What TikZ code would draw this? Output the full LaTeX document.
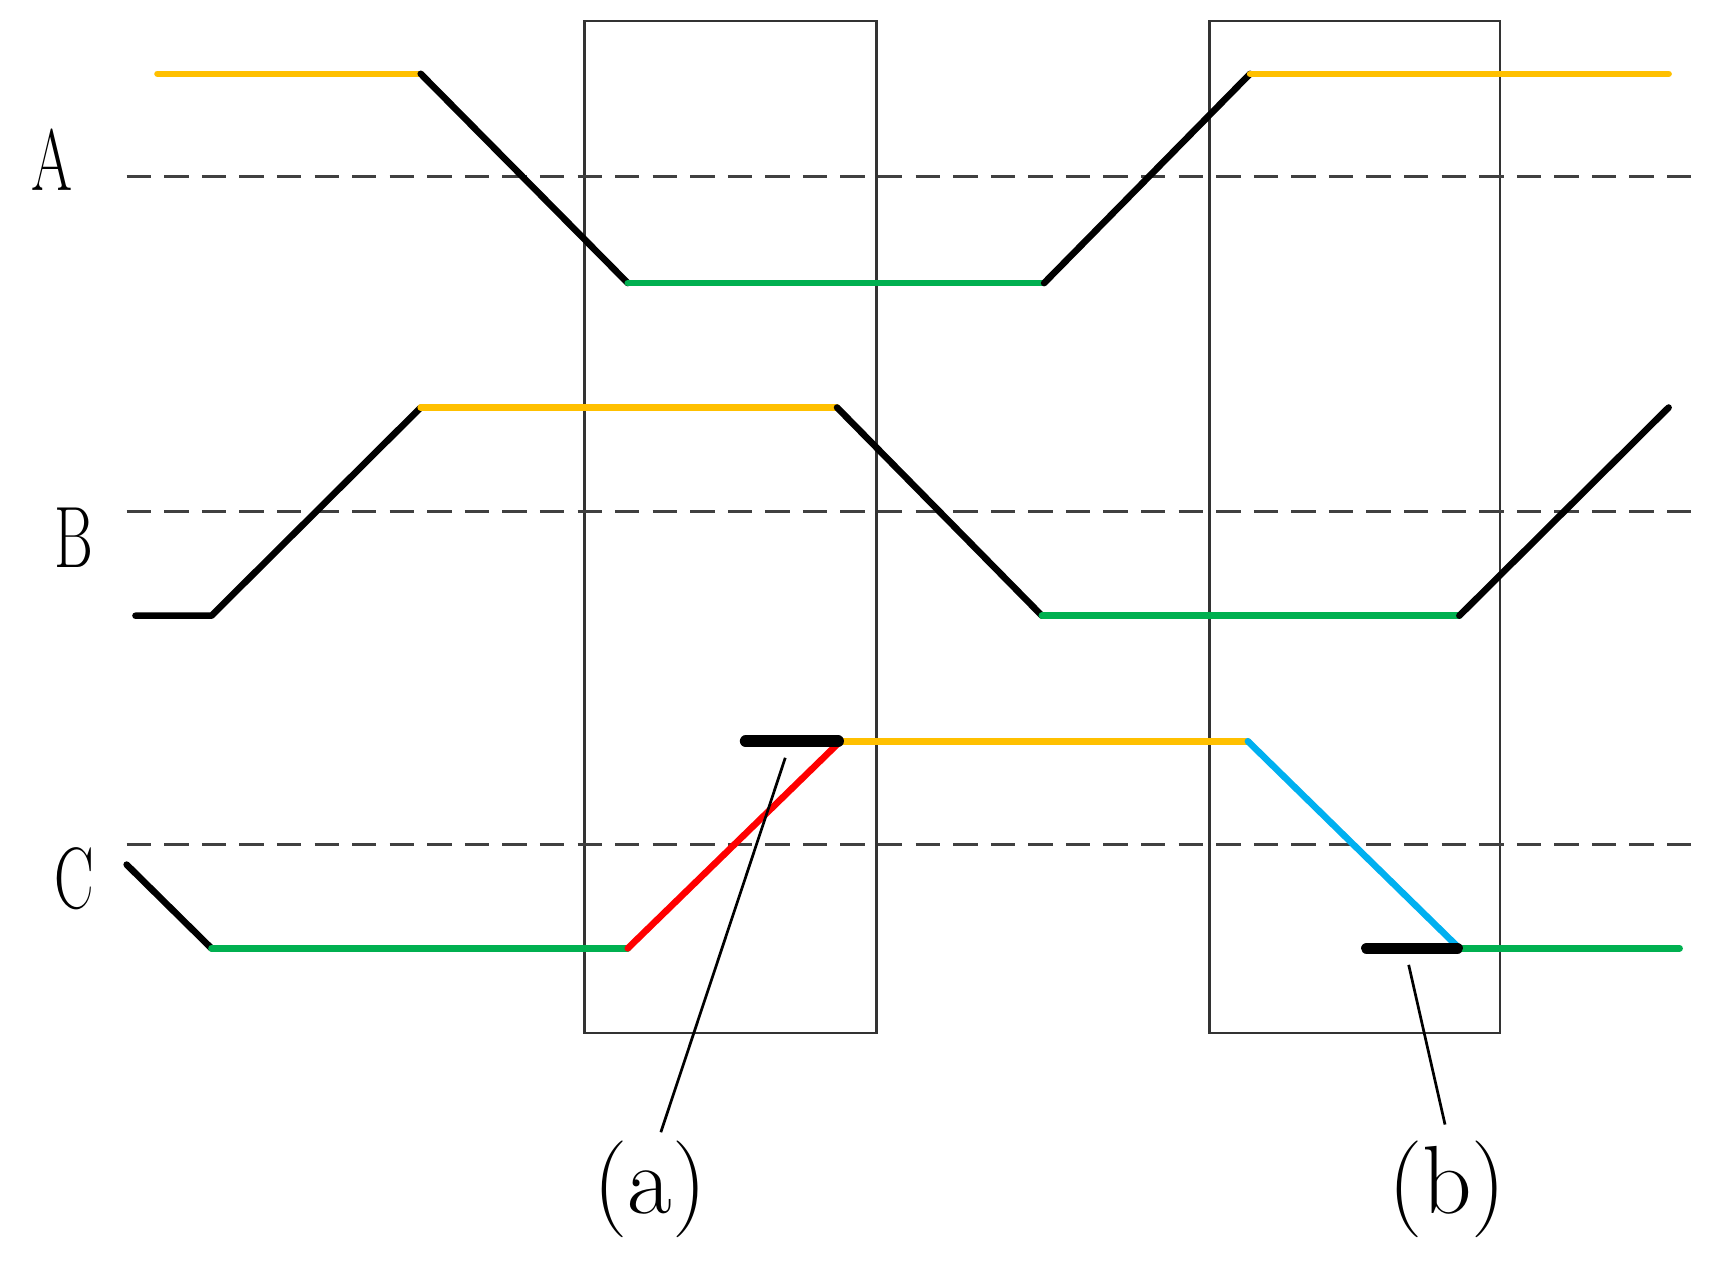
\documentclass[tikz,border=0pt]{standalone}
\begin{document}
\begin{tikzpicture}[x=0.01cm,y=-0.01cm,
  frame/.style={draw=black!80,line width=0.7pt},
  refline/.style={draw=black!75,line width=0.8pt,dash pattern=on 6.3pt off 3.4pt},
  sig/.style={line width=1.7pt,line cap=round,line join=round},
  bar/.style={line width=3pt,line cap=round,black},
  leader/.style={line width=0.7pt,black},
  lbl/.style={font=\fontsize{22.5}{26}\selectfont,xscale=0.68,inner sep=0pt},
  captxt/.style={font=\fontsize{25}{30}\selectfont,inner sep=0pt}]
\definecolor{sigorange}{HTML}{FFC000}
\definecolor{siggreen}{HTML}{00B050}
\definecolor{sigred}{HTML}{FF0000}
\definecolor{sigcyan}{HTML}{00B0F0}
\useasboundingbox (0,0) rectangle (1568,1144);
% frames
\draw[frame] (531,19) rectangle (796,938);
\draw[frame] (1098,19) rectangle (1362,938);
% reference lines
\draw[refline] (115,160) -- (1540,160);
\draw[refline] (115,464) -- (1540,464);
\draw[refline] (115,767) -- (1540,767);
% labels
\node[lbl] (A) at (47,145) {A};
\node[lbl] (B) at (67,488) {B};
\node[lbl] (C) at (67,798) {C};
% signal A
\draw[sig,sigorange] (143,67) -- (382,67);
\draw[sig,black] (382,67) -- (570,257);
\draw[sig,siggreen] (570,257) -- (948,257);
\draw[sig,black] (948,257) -- (1135,67);
\draw[sig,sigorange] (1135,67) -- (1515,67);
% signal B
\draw[sig,black] (123,559) -- (192,559) -- (382,370);
\draw[sig,sigorange] (382,370) -- (760,370);
\draw[sig,black] (760,370) -- (946,559);
\draw[sig,siggreen] (946,559) -- (1325,559);
\draw[sig,black] (1325,559) -- (1515,370);
% signal C
\draw[sig,black] (115,785) -- (192,861);
\draw[sig,siggreen] (192,861) -- (570,861);
\draw[sig,sigred] (570,861) -- (763,673);
\draw[sig,sigorange] (763,673) -- (1133,673);
\draw[sig,sigcyan] (1133,673) -- (1325,861);
\draw[sig,siggreen] (1325,861) -- (1525,861);
% marker bars
\draw[bar] (677,673) -- (761,673);
\draw[bar] (1241,861) -- (1323,861);
% callouts
\coordinate (pa) at (713,688);
\coordinate (ea) at (600,1028);
\coordinate (pb) at (1279,876);
\coordinate (eb) at (1312,1021);
\node[captxt] (la) at (590,1080) {(a)};
\node[captxt] (lb) at (1314,1080) {(b)};
\draw[leader] (pa) -- (ea);
\draw[leader] (pb) -- (eb);
\end{tikzpicture}
\end{document}
